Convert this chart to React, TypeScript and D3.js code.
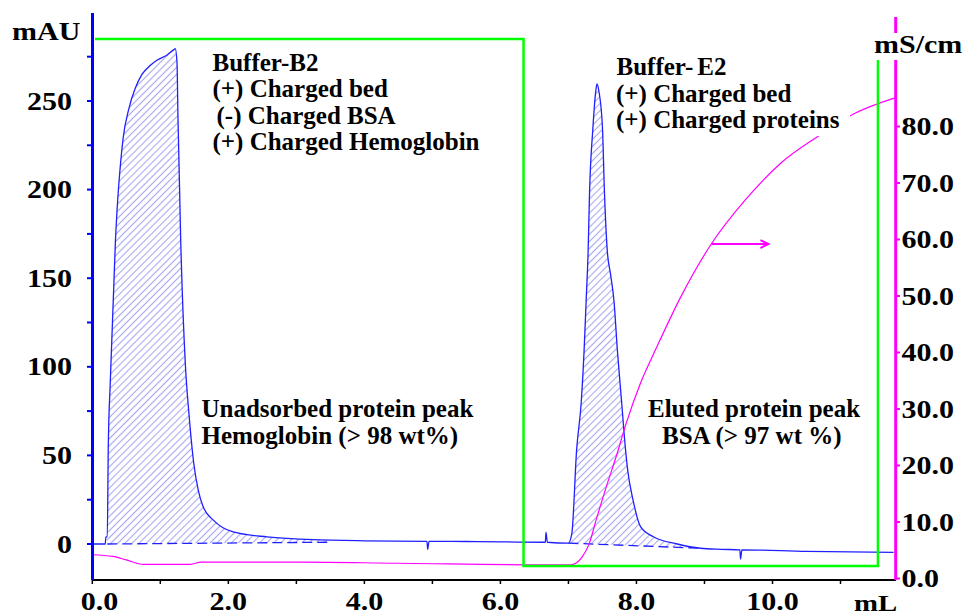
import React from "react";
import * as d3 from "d3";

// ---- data ----
const uvX = [0, 0.19, 0.2, 0.22, 0.235, 0.265, 0.34, 0.45, 0.54, 0.63, 0.73, 0.85, 0.95, 1.1, 1.2, 1.22, 1.245, 1.26, 1.3, 1.37, 1.42, 1.49, 1.56, 1.63, 1.78, 2.07, 2.57, 3.06, 3.5, 4.0, 4.92, 4.93, 4.95, 5.5, 6.0, 6.66, 6.67, 6.69, 7.0, 7.05, 7.12, 7.19, 7.23, 7.26, 7.29, 7.31, 7.36, 7.4, 7.42, 7.45, 7.5, 7.53, 7.57, 7.62, 7.67, 7.72, 7.78, 7.84, 7.87, 7.95, 8.06, 8.25, 8.6, 8.94, 9.24, 9.52, 9.53, 9.55, 10.5, 11.78];
const uvY = [0, 0, 4, 4, 55, 92, 171, 228, 246, 257, 265, 270, 273, 276, 279, 279.5, 272, 240, 171, 100, 74, 46, 30, 21, 13.5, 6.8, 4, 2.8, 2.2, 1.8, 1.5, -3, 1.5, 1.4, 1.2, 1.0, 6.5, 1.0, 0.5, 6, 53, 81, 109, 137, 166, 198, 235, 255, 259.6, 255, 235, 198, 166, 152, 137, 109, 81, 53, 42, 24.8, 9.8, 4.1, 0, -2.4, -3, -3.3, -8.5, -3.3, -4.2, -4.7];

const condX = [0, 0.3, 0.5, 0.75, 1.44, 1.6, 3.06, 4.5, 7.03, 7.12, 7.2, 7.3, 7.42, 7.55, 7.7, 7.85, 8.06, 8.3, 8.65, 9.1, 9.6, 10.12, 10.66, 11.19, 11.81];
const condY = [4.2, 3.9, 3.3, 2.5, 2.5, 2.9, 2.9, 2.7, 2.4, 2.8, 3.8, 6.0, 10.9, 16.0, 21.5, 27.5, 34.6, 41.0, 49.8, 59.2, 67.0, 73.5, 78.2, 82.2, 85.1];

// buffer step (% B)
const stepX = [0.04, 6.34, 6.34, 11.55, 11.55];
const stepY = [100, 100, 0, 0, 100];

// integration baselines [startX, startY, endX, endY]
const peak1Base = [0.22, 0, 3.5, 1.0];
const peak2Base = [7.0, 0.5, 8.95, -2.4];

const xTicks = [0, 1, 2, 3, 4, 5, 6, 7, 8, 9, 10, 11];
const xLabels = [0, 2, 4, 6, 8, 10];
const yTicks = [0, 25, 50, 75, 100, 125, 150, 175, 200, 225, 250, 275];
const yLabels = [0, 50, 100, 150, 200, 250];
const rTicks = [0, 10, 20, 30, 40, 50, 60, 70, 80];

const arrow = { from: 9.1, to: 9.94, level: 59.2 };

const noteB2 = ["Buffer-B2", "(+) Charged bed", " (-) Charged BSA", "(+) Charged Hemoglobin"];
const noteE2 = ["(+) Charged bed", "(+) Charged proteins"];
const noteUn = ["Unadsorbed protein peak", "Hemoglobin (> 98 wt%)"];
const noteEl = ["Eluted protein peak", "BSA (> 97 wt %)"];

// ---- layout ----
const W = 967, H = 616;
const x = d3.scaleLinear().domain([0, 10]).range([92.3, 772.5]);
const y = d3.scaleLinear().domain([0, 250]).range([544, 101]);
const yr = d3.scaleLinear().domain([0, 80]).range([578.5, 126.5]);
const yp = d3.scaleLinear().domain([0, 100]).range([566, 39]);

const FONT = "'Liberation Serif', 'Times New Roman', serif";
const BLUE = "#2020ff";
const MAG = "#ff00ff";

function interp(xs: number[], ys: number[], v: number) {
  const i = d3.bisectLeft(xs, v);
  if (i <= 0) return ys[0];
  if (i >= xs.length) return ys[ys.length - 1];
  const t = (v - xs[i - 1]) / (xs[i] - xs[i - 1] || 1);
  return ys[i - 1] + t * (ys[i] - ys[i - 1]);
}

function peakArea(b: number[]) {
  const [x0, b0, x1, b1] = b;
  const pts: number[] = [x0];
  uvX.forEach((v) => { if (v > x0 && v < x1) pts.push(v); });
  pts.push(x1);
  const base = (v: number) => b0 + ((v - x0) / (x1 - x0)) * (b1 - b0);
  const gen = d3.area<number>()
    .curve(d3.curveMonotoneX)
    .x((v) => x(v))
    .y0((v) => y(base(v)))
    .y1((v) => y(interp(uvX, uvY, v)));
  return gen(pts) || "";
}

export default function App() {
  const uvLine = d3.line<number>().curve(d3.curveMonotoneX).x((_, i) => x(uvX[i])).y((d) => y(d))(uvY) || "";
  const condLine = d3.line<number>().curve(d3.curveMonotoneX).x((_, i) => x(condX[i])).y((d) => yr(d))(condY) || "";
  const stepLine = d3.line<number>().x((_, i) => x(stepX[i])).y((d) => yp(d))(stepY) || "";
  const ax = x(arrow.from), bx = x(arrow.to), ay = yr(arrow.level);
  const stretch = (tx: number, ty: number) => `translate(${tx},${ty}) scale(1.2,1)`;

  return (
    <div style={{ position: "absolute", left: 0, top: 0 }}>
      <svg width={W} height={H} style={{ display: "block", background: "#fff" }}>
        <defs>
          <pattern id="hatch" width="5" height="5" patternUnits="userSpaceOnUse" patternTransform="rotate(45)">
            <line x1="2.5" y1="0" x2="2.5" y2="5" stroke="#a8a8f0" strokeWidth="1.1" />
          </pattern>
        </defs>
        <rect width={W} height={H} fill="#fff" />

        {/* hatched peak areas */}
        <path d={peakArea(peak1Base)} fill="url(#hatch)" />
        <path d={peakArea(peak2Base)} fill="url(#hatch)" />
        {[peak1Base, peak2Base].map((b, i) => (
          <line key={i} x1={x(b[0])} y1={y(b[1])} x2={x(b[2])} y2={y(b[3])}
            stroke={BLUE} strokeWidth={1.3} strokeDasharray="10,5" />
        ))}

        {/* UV trace */}
        <path d={uvLine} fill="none" stroke={BLUE} strokeWidth={1.3} />
        {/* conductivity */}
        <path d={condLine} fill="none" stroke={MAG} strokeWidth={1.2} />
        {/* buffer step */}
        <path d={stepLine} fill="none" stroke="#00ff00" strokeWidth={2.5} />

        {/* arrow */}
        <line x1={ax} y1={ay} x2={bx} y2={ay} stroke={MAG} strokeWidth={2} />
        <path d={`M${bx - 8},${ay - 4} L${bx},${ay} L${bx - 8},${ay + 4}`} fill="none" stroke={MAG} strokeWidth={2} />

        {/* x axis */}
        <line x1={92} y1={580} x2={896} y2={580} stroke="#000" strokeWidth={2} />
        {xTicks.map((t) => (
          <line key={t} x1={x(t)} y1={580} x2={x(t)} y2={584} stroke="#000" strokeWidth={1.5} />
        ))}
        {xLabels.map((t) => (
          <text key={t} transform={stretch(Math.max(x(t), 99.5), 610)} textAnchor="middle"
            fontFamily={FONT} fontWeight="bold" fontSize={25} fill="#000">{t.toFixed(1)}</text>
        ))}
        <text transform={stretch(854, 611)} fontFamily={FONT} fontWeight="bold" fontSize={24}>mL</text>

        {/* left axis */}
        <line x1={92.5} y1={13} x2={92.5} y2={580} stroke="#0000ff" strokeWidth={3} />
        {yTicks.map((t) => (
          <line key={t} x1={87} y1={y(t)} x2={92} y2={y(t)} stroke="#0000ff" strokeWidth={2} />
        ))}
        {yLabels.map((t) => (
          <text key={t} transform={stretch(72, y(t) + 8.5)} textAnchor="end"
            fontFamily={FONT} fontWeight="bold" fontSize={25}>{t}</text>
        ))}
        <text transform={stretch(12, 40)} fontFamily={FONT} fontWeight="bold" fontSize={25}>mAU</text>

        {/* right axis */}
        <line x1={895.7} y1={17} x2={895.7} y2={580} stroke={MAG} strokeWidth={3} />
        {rTicks.map((t) => (
          <line key={t} x1={896} y1={yr(t)} x2={900} y2={yr(t)} stroke={MAG} strokeWidth={2} />
        ))}
        {rTicks.map((t) => (
          <text key={t} transform={stretch(901.5, yr(t) + 8.5)}
            fontFamily={FONT} fontWeight="bold" fontSize={25}>{t.toFixed(1)}</text>
        ))}
        <rect x={871} y={33} width={96} height={27} fill="#fff" />
        <text transform={stretch(874, 53)} fontFamily={FONT} fontWeight="bold" fontSize={25}>mS/cm</text>

        {/* annotations */}
        <g fontFamily={FONT} fontWeight="bold" fontSize={25} fill="#000">
          {noteB2.map((s, i) => (
            <text key={i} x={s.startsWith(" ") ? 216.5 : 212.5} y={70.7 + i * 26.5}>{s.trim()}</text>
          ))}
          <rect x={612} y={52} width={238} height={84} fill="#fff" />
          <text x={616.5} y={75}>Buffer-<tspan dx={4}>E2</tspan></text>
          {noteE2.map((s, i) => (
            <text key={i} x={616} y={101.5 + i * 26}>{s}</text>
          ))}
          {noteUn.map((s, i) => (
            <text key={i} x={201.5} y={416.7 + i * 27.5}>{s}</text>
          ))}
          <text x={648} y={416.7}>{noteEl[0]}</text>
          <text x={662} y={444.2}>{noteEl[1]}</text>
        </g>
      </svg>
    </div>
  );
}
